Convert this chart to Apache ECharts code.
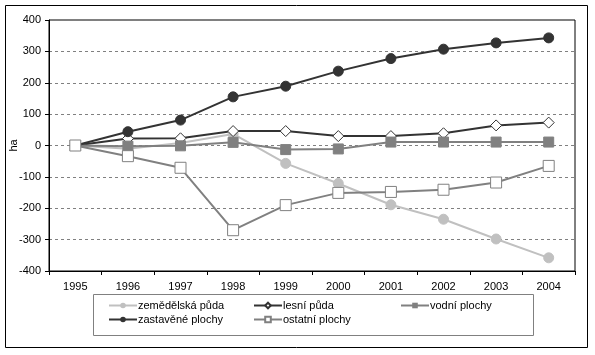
<!DOCTYPE html>
<html><head><meta charset="utf-8">
<script src="https://cdn.jsdelivr.net/npm/echarts@6/dist/echarts.min.js"></script>
<style>html,body{margin:0;padding:0;background:#fff}#c{width:595px;height:355px}</style>
</head><body><div id="c"></div>
<script>
const years = ['1995','1996','1997','1998','1999','2000','2001','2002','2003','2004'];
const zemedelska = [0, -10, 8, 37, -57, -121, -189, -235, -298, -358];
const lesni = [0, 22, 23, 46, 46, 30, 30, 39, 64, 73];
const vodni = [0, -2, -1, 10, -13, -11, 11, 11, 11, 11];
const zastavene = [0, 44, 81, 155, 189, 237, 277, 307, 327, 343];
const ostatni = [0, -34, -71, -270, -190, -151, -148, -141, -118, -65];
const names = ['zemědělská půda', 'lesní půda', 'vodní plochy', 'zastavěné plochy', 'ostatní plochy'];

const FONT = '"Liberation Sans", Arial, sans-serif';
const chart = echarts.init(document.getElementById('c'), null, {renderer: 'canvas'});

function legend(name, left, top) {
  return {
    data: [name], left: left, top: top, padding: 0, itemWidth: 28, itemHeight: 7, itemGap: 0,
    textStyle: {fontFamily: FONT, fontSize: 11, color: '#000', padding: [0, 0, 0, -4]},
    inactiveColor: '#ccc'
  };
}

chart.setOption({
  animation: false,
  textStyle: {fontFamily: FONT},
  grid: {left: 49, right: 20, top: 20, bottom: 84, show: true, borderColor: '#000', borderWidth: 1,
         containLabel: false, outerBoundsMode: 'none'},
  graphic: [
    {type: 'rect', shape: {x: 5.5, y: 5.5, width: 582, height: 342}, style: {fill: 'none', stroke: '#000', lineWidth: 1}, z: -1},
    {type: 'rect', shape: {x: 93.5, y: 294.5, width: 440, height: 41}, style: {fill: 'none', stroke: '#808080', lineWidth: 1}, z: -1}
  ],
  legend: [
    legend(names[0], 108, 300),
    legend(names[1], 253, 300),
    legend(names[2], 400, 300),
    legend(names[3], 108, 314),
    legend(names[4], 253, 314)
  ],
  xAxis: {
    type: 'category', data: years, boundaryGap: true,
    axisLine: {onZero: false, lineStyle: {color: '#000', width: 1}},
    axisTick: {show: true, length: 4, lineStyle: {color: '#000'}},
    axisLabel: {color: '#000', fontSize: 11, fontFamily: FONT, margin: 10},
    splitLine: {show: false}
  },
  yAxis: {
    type: 'value', min: -400, max: 400, interval: 100,
    name: 'ha', nameLocation: 'middle', nameGap: 30, nameRotate: 90, nameMoveOverlap: false,
    nameTextStyle: {color: '#000', fontSize: 11, fontFamily: FONT},
    axisLine: {show: true, lineStyle: {color: '#000', width: 1}},
    axisTick: {show: true, length: 4, lineStyle: {color: '#000'}},
    axisLabel: {color: '#000', fontSize: 11, fontFamily: FONT, margin: 8},
    splitLine: {show: true, lineStyle: {color: '#808080', type: [3, 3], width: 1}}
  },
  series: [
    {name: names[0], type: 'line', data: zemedelska, symbol: 'circle', symbolSize: 10,
     lineStyle: {color: '#c0c0c0', width: 2}, itemStyle: {color: '#c0c0c0', borderColor: '#c0c0c0'}},
    {name: names[1], type: 'line', data: lesni, symbol: 'diamond', symbolSize: 11,
     lineStyle: {color: '#333333', width: 2}, itemStyle: {color: '#ffffff', borderColor: '#333333', borderWidth: 1}},
    {name: names[2], type: 'line', data: vodni, symbol: 'rect', symbolSize: 10,
     lineStyle: {color: '#808080', width: 2}, itemStyle: {color: '#808080', borderColor: '#808080'}},
    {name: names[3], type: 'line', data: zastavene, symbol: 'circle', symbolSize: 10,
     lineStyle: {color: '#333333', width: 2}, itemStyle: {color: '#333333', borderColor: '#333333'}},
    {name: names[4], type: 'line', data: ostatni, symbol: 'rect', symbolSize: 11,
     lineStyle: {color: '#808080', width: 2}, itemStyle: {color: '#ffffff', borderColor: '#808080', borderWidth: 1}}
  ]
});
</script></body></html>
